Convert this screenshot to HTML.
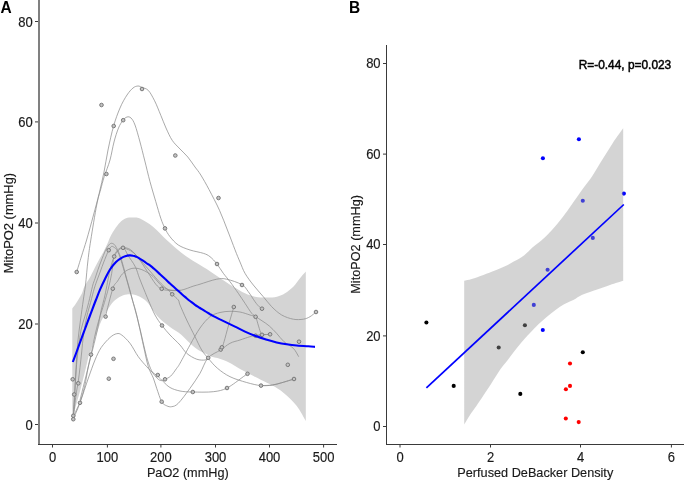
<!DOCTYPE html>
<html><head><meta charset="utf-8"><title>MitoPO2 plots</title>
<style>
html,body{margin:0;padding:0;background:#fff;}
body{width:685px;height:481px;overflow:hidden;}
svg{display:block;will-change:transform;}
text{font-family:"Liberation Sans",sans-serif;}
</style></head><body>
<svg width="685" height="481" viewBox="0 0 685 481">
<rect width="685" height="481" fill="#fff"/>

<g id="panelA">
<path d="M72.3 308.6C72.8 307.9 74.2 306.2 75.3 304.6C76.3 303.1 77.5 301.2 78.6 299.3C79.7 297.4 81.1 295.3 82.0 293.3C82.9 291.3 83.2 289.2 84.0 287.5C84.8 285.8 85.4 284.9 86.5 283.0C87.6 281.1 89.1 279.0 90.6 276.2C92.1 273.4 94.1 269.0 95.7 266.0C97.3 263.0 98.7 260.4 100.0 258.0C101.3 255.6 102.5 253.9 103.7 251.5C105.0 249.1 106.2 246.2 107.5 243.5C108.8 240.8 109.5 238.0 111.2 235.0C112.9 232.0 115.5 227.9 117.4 225.5C119.3 223.1 120.7 221.6 122.4 220.3C124.1 219.0 125.5 218.3 127.4 217.8C129.3 217.3 131.5 217.4 133.6 217.5C135.7 217.6 136.7 217.0 140.0 218.6C143.3 220.2 148.9 223.4 153.3 227.0C157.8 230.6 162.0 235.7 166.7 240.0C171.4 244.3 177.0 249.3 181.7 253.0C186.4 256.7 190.8 259.3 195.0 262.0C199.2 264.7 202.5 266.3 206.7 269.0C210.9 271.7 215.6 275.1 220.0 278.0C224.4 280.9 229.1 284.1 233.3 286.7C237.5 289.2 241.4 291.6 245.0 293.3C248.6 295.0 251.4 296.0 255.0 296.7C258.6 297.4 263.0 297.5 266.7 297.5C270.4 297.5 273.9 297.4 277.0 296.7C280.1 296.0 282.3 295.0 285.0 293.3C287.7 291.6 290.8 289.2 293.3 286.7C295.8 284.2 297.9 280.8 300.0 278.3C302.1 275.8 304.8 272.6 305.8 271.5L305.8 421.0C304.3 418.5 300.5 410.7 296.8 406.0C293.1 401.3 287.8 396.4 283.7 393.0C279.6 389.6 276.2 387.8 272.5 385.6C268.8 383.4 264.9 381.9 261.2 380.0C257.4 378.1 253.8 376.3 250.0 374.3C246.2 372.3 241.6 369.9 238.3 368.0C235.0 366.1 232.5 364.3 230.0 363.0C227.5 361.7 225.4 360.8 223.3 360.0C221.2 359.2 219.4 358.6 217.5 358.0C215.6 357.4 213.5 357.3 211.7 356.7C209.9 356.1 208.9 355.3 206.7 354.2C204.5 353.1 201.1 351.8 198.3 350.0C195.5 348.2 192.9 345.9 190.0 343.3C187.1 340.7 184.3 337.2 181.0 334.5C177.7 331.8 173.7 329.8 170.0 327.0C166.3 324.2 161.9 320.7 159.1 318.0C156.3 315.3 155.2 313.4 153.3 310.8C151.4 308.2 149.4 304.7 147.5 302.5C145.6 300.3 143.8 299.0 141.6 297.7C139.4 296.4 136.9 295.3 134.4 294.8C131.9 294.3 129.1 294.2 126.7 294.5C124.3 294.8 122.2 295.5 120.0 296.7C117.8 297.9 115.4 299.5 113.3 301.7C111.2 303.9 109.5 306.7 107.5 310.0C105.5 313.3 102.9 317.7 101.2 321.2C99.6 324.8 98.8 327.9 97.5 331.2C96.2 334.6 94.8 338.1 93.8 341.2C92.7 344.4 91.9 347.4 91.0 350.0C90.1 352.6 89.4 353.6 88.4 357.0C87.5 360.4 86.6 365.0 85.3 370.3C84.0 375.6 82.0 383.6 80.6 389.0C79.2 394.4 77.9 398.7 76.7 403.0C75.5 407.3 74.3 412.6 73.6 414.7C72.9 416.8 72.5 415.4 72.3 415.5Z" fill="#d4d4d4"/>
<g fill="none" stroke="#8e8e8e" stroke-width="0.75">
<path d="M76.7 272.0C77.5 269.3 79.9 261.3 81.6 256.0C83.2 250.7 84.6 246.8 86.6 240.0C88.6 233.2 91.4 222.8 93.5 215.0C95.6 207.2 97.5 200.5 99.2 193.3C101.0 186.1 102.5 179.2 104.0 172.0C105.5 164.8 106.4 157.7 108.0 150.0C109.6 142.3 111.6 133.0 113.6 126.0C115.6 119.0 117.8 113.2 120.0 108.0C122.2 102.8 124.8 98.3 127.0 95.0C129.2 91.7 131.2 89.5 133.0 88.0C134.8 86.5 136.5 86.1 138.0 86.0C139.5 85.9 140.3 86.8 142.0 87.5C143.7 88.2 146.2 88.2 148.3 90.4C150.4 92.6 152.5 96.7 154.6 100.8C156.7 104.9 158.9 110.8 160.8 115.3C162.7 119.8 164.1 123.8 166.0 128.0C167.9 132.2 169.9 136.8 172.2 140.3C174.5 143.8 177.4 146.2 180.0 149.0C182.6 151.8 185.3 154.0 187.8 157.0C190.3 160.0 192.8 164.0 195.0 167.0C197.2 170.0 198.5 171.2 200.8 175.0C203.1 178.8 205.9 183.6 209.0 189.5C212.1 195.4 216.4 203.4 219.5 210.3C222.6 217.2 225.2 224.4 227.8 231.0C230.4 237.6 233.0 244.6 235.0 249.8C237.0 255.0 238.3 258.1 240.0 262.0C241.7 265.9 242.8 269.5 245.0 273.3C247.2 277.1 250.2 281.1 253.3 285.0C256.4 288.9 260.2 293.1 263.3 296.7C266.4 300.3 268.6 303.6 271.7 306.7C274.8 309.8 278.1 312.9 281.7 315.0C285.3 317.1 289.7 318.5 293.3 319.2C296.9 319.9 300.5 319.6 303.3 319.2C306.1 318.8 307.9 317.9 310.0 316.7C312.1 315.5 315.0 312.8 316.0 312.0"/>
<path d="M73.3 416.0C73.5 413.3 74.1 406.0 74.5 400.0C74.9 394.0 75.2 386.7 75.5 380.0C75.8 373.3 76.1 366.7 76.5 360.0C76.9 353.3 77.3 346.7 78.0 340.0C78.7 333.3 79.6 326.7 80.5 320.0C81.4 313.3 82.5 305.8 83.3 300.0C84.1 294.2 84.7 291.7 85.5 285.0C86.3 278.3 87.1 267.5 88.0 260.0C88.9 252.5 89.3 249.2 90.8 240.0C92.2 230.8 95.1 213.3 96.7 205.0C98.3 196.7 99.2 194.7 100.5 190.0C101.8 185.3 102.6 181.7 104.2 176.7C105.8 171.7 108.4 165.8 110.0 160.0C111.6 154.2 112.6 147.3 114.0 142.0C115.4 136.7 117.0 131.6 118.5 128.0C120.0 124.4 121.6 122.0 123.0 120.2C124.4 118.4 125.7 117.4 127.0 117.0C128.3 116.6 129.7 116.7 131.0 118.0C132.3 119.3 133.5 121.0 135.0 125.0C136.5 129.0 138.4 136.2 140.0 142.0C141.6 147.8 142.9 153.4 144.6 160.0C146.3 166.6 148.1 174.8 150.0 181.7C151.9 188.6 154.0 195.6 155.8 201.7C157.6 207.8 159.3 213.9 160.8 218.3C162.3 222.8 163.5 225.3 165.0 228.4C166.5 231.5 167.8 233.9 170.0 236.7C172.2 239.5 175.0 242.8 178.3 245.0C181.6 247.2 185.8 248.6 190.0 250.0C194.2 251.4 200.0 252.2 203.3 253.3C206.6 254.4 207.7 254.9 210.0 256.7C212.3 258.5 214.8 261.2 217.0 264.0C219.2 266.8 221.1 270.4 223.3 273.3C225.5 276.2 227.5 278.4 230.0 281.7C232.5 285.0 235.8 289.7 238.3 293.3C240.8 296.9 242.8 300.0 245.0 303.3C247.2 306.6 249.9 311.1 251.7 313.3C253.5 315.6 254.6 315.0 255.6 316.8C256.6 318.6 257.1 321.3 257.9 323.9C258.7 326.5 259.8 330.4 260.5 332.2C261.2 334.0 261.8 334.4 262.0 334.8"/>
<path d="M73.3 416.0C73.5 413.3 73.8 406.0 74.2 400.0C74.6 394.0 74.9 386.7 75.4 380.0C75.9 373.3 76.4 365.8 77.0 360.0C77.6 354.2 78.1 350.0 78.8 345.0C79.5 340.0 80.0 334.8 81.0 330.0C82.0 325.2 83.7 320.6 85.0 316.0C86.3 311.4 87.5 307.4 88.7 302.4C90.0 297.4 91.5 290.1 92.5 286.2C93.5 282.2 94.1 281.5 95.0 278.7C95.9 275.9 97.1 272.2 98.1 269.3C99.1 266.4 100.0 264.1 101.2 261.0C102.4 257.9 104.2 253.2 105.4 250.6C106.6 248.0 107.5 246.6 108.5 245.4C109.5 244.2 110.1 243.5 111.1 243.3C112.0 243.1 113.3 243.7 114.2 244.4C115.1 245.1 115.5 246.2 116.3 247.5C117.1 248.8 117.8 250.2 118.8 252.5C119.7 254.8 120.9 257.9 121.9 261.2C122.9 264.6 123.9 268.3 125.0 272.5C126.1 276.7 127.5 281.7 128.8 286.2C130.0 290.8 131.2 295.2 132.5 300.0C133.8 304.8 134.9 307.5 136.7 315.0C138.5 322.5 141.4 336.4 143.3 345.0C145.2 353.6 146.6 361.2 148.3 366.7C150.0 372.2 151.9 374.4 153.3 378.0C154.7 381.6 155.3 384.4 156.7 388.3C158.1 392.2 160.0 398.8 161.7 401.7C163.4 404.6 165.0 405.0 166.7 405.8C168.4 406.6 169.8 407.1 171.7 406.7C173.6 406.3 175.2 406.4 178.3 403.3C181.4 400.2 186.4 393.3 190.0 388.3C193.6 383.3 197.0 378.4 200.0 373.3C203.0 368.2 204.6 361.9 208.0 358.0C211.4 354.1 216.8 352.4 220.5 350.0C224.2 347.6 226.8 345.0 230.0 343.3C233.2 341.6 236.7 341.1 240.0 340.0C243.3 338.9 247.4 337.4 250.0 336.7C252.6 336.0 253.6 336.0 255.6 335.7C257.6 335.4 259.6 335.0 262.0 334.8C264.4 334.6 268.8 334.4 270.1 334.3"/>
<path d="M73.5 416.0C74.6 413.7 78.1 407.0 80.0 402.0C81.9 397.0 83.4 391.9 84.7 386.2C86.0 380.5 87.0 373.3 88.0 368.0C89.0 362.7 90.0 359.1 91.0 354.6C92.0 350.1 92.7 345.9 93.8 341.0C94.8 336.1 96.2 329.8 97.5 325.0C98.8 320.2 100.1 316.2 101.2 312.5C102.4 308.8 103.2 306.6 104.4 302.5C105.6 298.4 107.3 292.9 108.5 288.0C109.7 283.1 110.8 278.6 111.7 273.3C112.6 268.0 112.9 260.3 114.1 256.2C115.3 252.2 117.3 250.4 118.8 249.0C120.2 247.6 121.8 247.5 122.9 247.8C124.0 248.0 124.7 249.2 125.5 250.5C126.3 251.8 127.0 253.8 128.0 255.5C129.0 257.1 130.1 258.4 131.4 260.4C132.7 262.4 134.5 264.8 135.8 267.7C137.1 270.6 138.0 274.3 139.4 278.0C140.8 281.7 142.7 286.3 144.2 290.0C145.7 293.7 146.5 295.8 148.3 300.0C150.1 304.2 152.7 310.8 155.0 315.0C157.3 319.2 159.5 322.2 162.0 325.5C164.5 328.8 167.0 331.8 170.0 335.0C173.0 338.2 177.2 341.9 180.0 345.0C182.8 348.1 183.9 350.9 186.7 353.3C189.5 355.7 193.6 358.1 196.7 359.2C199.8 360.3 203.1 360.2 205.0 360.0C206.9 359.8 207.5 358.3 208.0 358.0"/>
<path d="M80.0 400.0C81.7 393.3 87.1 371.7 90.0 360.0C92.9 348.3 95.6 338.1 97.4 329.9C99.2 321.7 99.7 316.8 101.0 311.0C102.3 305.2 103.5 301.8 105.0 295.0C106.5 288.2 108.5 276.3 110.0 270.0C111.5 263.7 112.6 260.2 114.0 257.0C115.4 253.8 116.7 252.4 118.2 250.8C119.7 249.2 120.9 247.9 123.0 247.7C125.1 247.5 128.0 247.9 130.7 249.8C133.4 251.7 136.2 255.5 139.0 259.1C141.8 262.7 144.6 267.4 147.4 271.6C150.2 275.8 153.3 281.2 155.7 284.1C158.0 287.0 159.4 287.9 161.5 288.9C163.6 289.9 165.0 290.1 168.2 290.3C171.4 290.5 176.5 291.0 180.7 290.3C184.8 289.6 189.9 287.2 193.1 286.2C196.3 285.2 196.1 285.4 200.0 284.2C203.9 283.0 212.2 280.0 216.7 279.2C221.1 278.4 222.5 278.3 226.7 279.2C230.9 280.1 238.4 282.6 242.0 284.7C245.6 286.8 246.1 288.9 248.3 291.7C250.5 294.5 253.2 299.2 255.0 301.7C256.8 304.2 258.0 305.5 259.2 306.7C260.4 307.9 261.5 308.4 262.0 308.7"/>
<path d="M123.0 247.7C124.3 248.2 128.4 249.4 130.7 250.8C133.0 252.2 134.9 253.9 137.0 256.0C139.1 258.1 141.2 261.0 143.2 263.3C145.2 265.6 146.9 267.6 149.0 270.0C151.1 272.4 153.4 275.2 155.7 277.8C158.0 280.4 160.9 283.5 163.0 285.5C165.1 287.5 166.8 288.5 168.3 290.0C169.8 291.5 170.5 292.6 172.2 294.3C173.9 296.0 177.0 298.2 178.3 300.0C179.6 301.8 178.6 301.7 180.0 305.0C181.4 308.3 184.2 314.7 186.7 320.0C189.2 325.3 192.5 331.7 195.0 336.7C197.5 341.7 199.5 346.4 201.7 350.0C203.9 353.6 205.4 354.9 208.0 358.0C210.6 361.1 213.8 365.2 217.5 368.3C221.2 371.4 225.1 374.3 230.0 376.7C234.9 379.1 241.5 381.0 246.7 382.5C251.9 384.0 256.7 385.2 261.0 385.6C265.3 386.0 269.0 385.5 272.5 385.0C276.0 384.5 278.2 383.7 281.8 382.7C285.4 381.7 292.0 379.6 294.0 379.0"/>
<path d="M105.4 316.7C106.6 312.0 110.8 294.6 112.8 288.7C114.8 282.8 115.9 283.7 117.5 281.2C119.1 278.8 120.6 275.7 122.5 273.8C124.4 271.8 126.7 270.3 128.8 269.4C130.8 268.5 132.9 268.1 135.0 268.1C137.1 268.1 139.2 268.7 141.2 269.4C143.3 270.1 145.5 271.3 147.5 272.5C149.5 273.7 151.2 274.9 153.0 276.5C154.8 278.1 156.3 280.2 158.0 282.0C159.7 283.8 161.0 285.7 163.0 287.0C165.0 288.3 167.1 289.4 170.0 290.0C172.9 290.6 178.9 290.2 180.7 290.3"/>
<path d="M73.3 419.0C74.4 416.3 77.5 409.6 80.0 402.8C82.5 396.0 85.9 385.1 88.4 378.0C90.9 370.9 92.9 365.1 95.0 360.0C97.1 354.9 98.8 351.2 101.2 347.5C103.8 343.8 107.4 339.8 110.0 337.5C112.6 335.2 114.8 334.1 116.7 333.7C118.7 333.3 119.5 333.4 121.7 335.0C123.9 336.6 127.2 339.7 130.0 343.3C132.8 346.9 135.5 352.8 138.3 356.7C141.1 360.6 144.4 364.1 146.7 366.7C149.0 369.2 150.2 370.4 152.0 372.0C153.8 373.6 155.7 374.4 157.6 376.0C159.5 377.6 161.2 379.8 163.3 381.7C165.4 383.6 167.2 385.9 170.0 387.5C172.8 389.1 176.2 390.2 180.0 391.0C183.8 391.8 187.2 391.9 192.8 392.0C198.4 392.1 207.6 392.4 213.3 391.7C219.0 391.0 222.0 390.5 227.0 388.0C232.0 385.5 239.9 379.1 243.3 376.7C246.7 374.3 246.8 374.2 247.5 373.7"/>
<path d="M73.5 416.0C73.9 412.5 75.2 400.7 76.0 395.0C76.8 389.3 77.5 386.6 78.2 382.0C78.9 377.4 79.4 372.5 80.0 367.5C80.6 362.5 81.1 357.4 81.7 352.0C82.3 346.6 82.6 341.0 83.5 335.0C84.4 329.0 85.7 321.5 86.9 316.1C88.1 310.7 89.3 307.1 90.6 302.4C91.8 297.7 93.2 291.9 94.4 288.0C95.6 284.1 96.5 281.8 97.5 279.0C98.5 276.2 99.5 273.8 100.5 271.0C101.5 268.2 102.6 265.1 103.8 262.0C105.0 258.9 106.7 254.7 107.5 252.7C108.3 250.7 108.1 250.9 108.8 249.9C109.5 248.9 110.6 246.8 111.6 246.4C112.5 246.0 113.7 247.1 114.5 247.6C115.3 248.1 115.8 248.3 116.5 249.5C117.2 250.7 118.1 252.2 119.0 254.5C119.9 256.8 121.0 260.2 122.0 263.5C123.0 266.8 124.0 270.4 125.2 274.5C126.4 278.6 127.7 283.5 129.0 288.0C130.3 292.5 131.5 296.8 132.8 301.5C134.1 306.2 135.6 311.6 136.9 316.5C138.2 321.4 139.3 326.2 140.5 331.0C141.7 335.8 142.6 340.7 143.8 345.5C145.0 350.3 146.2 355.8 147.5 360.0C148.8 364.2 150.1 367.7 151.5 370.5C152.9 373.3 154.5 375.3 156.0 377.0C157.5 378.7 159.0 380.1 160.5 380.5C162.0 380.9 163.2 380.0 164.9 379.3C166.6 378.6 168.7 377.9 170.7 376.1C172.7 374.3 175.1 370.4 176.7 368.3C178.2 366.2 177.8 367.2 180.0 363.3C182.2 359.4 186.7 350.9 190.0 345.0C193.3 339.1 196.7 332.7 200.0 328.0C203.3 323.3 206.7 319.3 210.0 316.7C213.3 314.1 216.7 313.4 220.0 312.5C223.3 311.6 226.7 311.4 230.0 311.3C233.3 311.2 236.7 311.4 240.0 312.0C243.3 312.6 247.4 314.2 250.0 315.0C252.6 315.8 253.6 315.8 255.6 316.8C257.6 317.8 259.7 319.3 262.0 320.8C264.3 322.3 266.9 323.9 269.3 326.0C271.7 328.1 274.2 330.7 276.6 333.3C279.0 335.9 281.1 339.1 283.9 341.6C286.7 344.1 290.8 345.8 293.3 348.3C295.8 350.8 297.8 355.3 298.7 356.7"/>
<path d="M233.8 307.0C233.2 309.2 231.5 314.8 230.0 320.0C228.5 325.2 226.2 333.9 225.0 338.3C223.8 342.8 222.9 345.3 222.5 346.7"/>
<path d="M256.0 335.5C257.0 335.4 259.6 335.0 262.0 334.8C264.4 334.6 268.8 334.4 270.1 334.3"/>
<path d="M261.0 385.6C262.9 385.5 269.0 385.5 272.5 385.0C276.0 384.5 278.2 383.7 281.8 382.7C285.4 381.7 292.0 379.6 294.0 379.0"/>
</g>
<g fill="#c2c2c2" stroke="#747474" stroke-width="0.95">
<circle cx="101.5" cy="105.0" r="1.8"/>
<circle cx="113.7" cy="126.0" r="1.8"/>
<circle cx="123.2" cy="120.2" r="1.8"/>
<circle cx="142.0" cy="89.0" r="1.8"/>
<circle cx="106.4" cy="174.0" r="1.8"/>
<circle cx="175.3" cy="155.5" r="1.8"/>
<circle cx="218.5" cy="198.0" r="1.8"/>
<circle cx="165.0" cy="228.4" r="1.8"/>
<circle cx="217.0" cy="264.0" r="1.8"/>
<circle cx="76.7" cy="272.0" r="1.8"/>
<circle cx="108.7" cy="250.2" r="1.8"/>
<circle cx="114.2" cy="256.5" r="1.8"/>
<circle cx="123.0" cy="247.8" r="1.8"/>
<circle cx="112.8" cy="288.7" r="1.8"/>
<circle cx="161.7" cy="288.8" r="1.8"/>
<circle cx="172.2" cy="294.3" r="1.8"/>
<circle cx="242.0" cy="285.0" r="1.8"/>
<circle cx="233.8" cy="307.0" r="1.8"/>
<circle cx="262.0" cy="308.7" r="1.8"/>
<circle cx="255.6" cy="316.8" r="1.8"/>
<circle cx="316.0" cy="312.0" r="1.8"/>
<circle cx="255.6" cy="335.7" r="1.8"/>
<circle cx="262.0" cy="334.8" r="1.8"/>
<circle cx="270.1" cy="334.3" r="1.8"/>
<circle cx="299.0" cy="341.7" r="1.8"/>
<circle cx="287.8" cy="364.8" r="1.8"/>
<circle cx="294.0" cy="379.0" r="1.8"/>
<circle cx="261.0" cy="385.6" r="1.8"/>
<circle cx="247.5" cy="373.8" r="1.8"/>
<circle cx="227.0" cy="388.0" r="1.8"/>
<circle cx="192.8" cy="392.0" r="1.8"/>
<circle cx="208.2" cy="357.8" r="1.8"/>
<circle cx="220.7" cy="349.6" r="1.8"/>
<circle cx="221.9" cy="347.3" r="1.8"/>
<circle cx="105.6" cy="316.6" r="1.8"/>
<circle cx="162.0" cy="325.5" r="1.8"/>
<circle cx="91.0" cy="354.6" r="1.8"/>
<circle cx="113.5" cy="358.8" r="1.8"/>
<circle cx="108.8" cy="378.7" r="1.8"/>
<circle cx="157.8" cy="375.0" r="1.8"/>
<circle cx="165.0" cy="379.3" r="1.8"/>
<circle cx="161.7" cy="401.7" r="1.8"/>
<circle cx="72.7" cy="379.3" r="1.8"/>
<circle cx="78.3" cy="383.3" r="1.8"/>
<circle cx="74.2" cy="394.5" r="1.8"/>
<circle cx="80.0" cy="402.8" r="1.8"/>
<circle cx="73.3" cy="415.8" r="1.8"/>
<circle cx="73.3" cy="419.2" r="1.8"/>
</g>
<path d="M72.8 362.0C73.3 360.6 74.8 356.8 76.0 353.5C77.2 350.2 78.5 346.6 80.0 342.5C81.5 338.4 83.3 333.5 85.0 329.0C86.7 324.5 88.2 320.2 90.0 315.5C91.8 310.8 94.0 304.8 95.7 300.5C97.4 296.2 98.5 293.3 100.0 289.7C101.5 286.1 103.3 282.4 105.0 279.0C106.7 275.6 108.2 272.3 110.0 269.5C111.8 266.7 114.0 264.0 116.0 262.0C118.0 260.0 120.3 258.6 122.0 257.6C123.7 256.6 124.8 256.4 126.0 256.0C127.2 255.6 128.0 255.5 129.2 255.4C130.4 255.3 131.8 255.4 133.0 255.7C134.2 255.9 135.3 256.4 136.5 256.9C137.7 257.4 138.8 258.1 140.0 258.8C141.2 259.5 142.6 260.4 143.8 261.2C145.1 262.0 146.5 263.2 147.5 263.9C148.5 264.6 149.0 264.6 150.0 265.4C151.0 266.2 152.1 267.1 153.8 268.6C155.4 270.1 158.1 272.5 160.0 274.2C161.9 275.9 163.3 277.2 165.0 278.8C166.7 280.3 168.3 282.0 170.0 283.5C171.7 285.0 173.3 286.5 175.0 288.0C176.7 289.5 178.3 291.0 180.0 292.5C181.7 294.0 183.3 295.5 185.0 296.9C186.7 298.3 188.3 299.7 190.0 301.0C191.7 302.3 193.3 303.6 195.0 304.8C196.7 306.0 198.3 306.9 200.0 308.0C201.7 309.1 203.3 310.2 205.0 311.2C206.7 312.2 208.3 313.2 210.0 314.2C211.7 315.1 213.3 316.0 215.0 316.9C216.7 317.8 218.1 318.4 220.0 319.4C221.9 320.3 224.2 321.4 226.7 322.6C229.2 323.8 231.9 325.1 235.0 326.6C238.1 328.1 241.7 330.1 245.0 331.6C248.3 333.1 251.5 334.5 255.0 335.8C258.5 337.1 262.4 338.4 266.0 339.5C269.6 340.6 273.2 341.6 276.6 342.4C280.1 343.2 283.4 343.8 286.7 344.3C290.0 344.8 293.1 345.2 296.7 345.5C300.3 345.8 305.2 346.1 308.3 346.3C311.4 346.5 313.9 346.8 315.0 346.9" fill="none" stroke="#0000ff" stroke-width="2.1" stroke-linejoin="round"/>
<rect x="38" y="0" width="2" height="445" fill="#808080"/>
<rect x="38" y="444" width="299" height="1" fill="#3a3a3a"/>
<rect x="35" y="21.00" width="3" height="1" fill="#3a3a3a"/>
<text transform="translate(32.80,26.70) scale(1,1.060)" font-size="13" text-anchor="end" fill="#1a1a1a" stroke="#1a1a1a" stroke-width="0.15">80</text>
<rect x="35" y="121.40" width="3" height="1" fill="#3a3a3a"/>
<text transform="translate(32.80,127.10) scale(1,1.060)" font-size="13" text-anchor="end" fill="#1a1a1a" stroke="#1a1a1a" stroke-width="0.15">60</text>
<rect x="35" y="222.50" width="3" height="1" fill="#3a3a3a"/>
<text transform="translate(32.80,228.20) scale(1,1.060)" font-size="13" text-anchor="end" fill="#1a1a1a" stroke="#1a1a1a" stroke-width="0.15">40</text>
<rect x="35" y="323.50" width="3" height="1" fill="#3a3a3a"/>
<text transform="translate(32.80,329.20) scale(1,1.060)" font-size="13" text-anchor="end" fill="#1a1a1a" stroke="#1a1a1a" stroke-width="0.15">20</text>
<rect x="35" y="424.00" width="3" height="1" fill="#3a3a3a"/>
<text transform="translate(32.80,429.70) scale(1,1.060)" font-size="13" text-anchor="end" fill="#1a1a1a" stroke="#1a1a1a" stroke-width="0.15">0</text>
<rect x="52.0" y="445" width="1" height="2.5" fill="#3a3a3a"/>
<text transform="translate(52.50,461.50) scale(1,1.060)" font-size="13" text-anchor="middle" fill="#1a1a1a" stroke="#1a1a1a" stroke-width="0.15">0</text>
<rect x="106.9" y="445" width="1" height="2.5" fill="#3a3a3a"/>
<text transform="translate(107.40,461.50) scale(1,1.060)" font-size="13" text-anchor="middle" fill="#1a1a1a" stroke="#1a1a1a" stroke-width="0.15">100</text>
<rect x="160.4" y="445" width="1" height="2.5" fill="#3a3a3a"/>
<text transform="translate(160.90,461.50) scale(1,1.060)" font-size="13" text-anchor="middle" fill="#1a1a1a" stroke="#1a1a1a" stroke-width="0.15">200</text>
<rect x="215.0" y="445" width="1" height="2.5" fill="#3a3a3a"/>
<text transform="translate(215.50,461.50) scale(1,1.060)" font-size="13" text-anchor="middle" fill="#1a1a1a" stroke="#1a1a1a" stroke-width="0.15">300</text>
<rect x="269.0" y="445" width="1" height="2.5" fill="#3a3a3a"/>
<text transform="translate(269.50,461.50) scale(1,1.060)" font-size="13" text-anchor="middle" fill="#1a1a1a" stroke="#1a1a1a" stroke-width="0.15">400</text>
<rect x="323.1" y="445" width="1" height="2.5" fill="#3a3a3a"/>
<text transform="translate(323.60,461.50) scale(1,1.060)" font-size="13" text-anchor="middle" fill="#1a1a1a" stroke="#1a1a1a" stroke-width="0.15">500</text>
<text transform="translate(187.80,477.40) scale(1,1.060)" font-size="12.7" text-anchor="middle" fill="#1a1a1a" stroke="#1a1a1a" stroke-width="0.15">PaO2 (mmHg)</text>
<text transform="translate(13.00,223.00) rotate(-90) scale(1,1.060)" font-size="12.9" text-anchor="middle" fill="#1a1a1a" stroke="#1a1a1a" stroke-width="0.15">MitoPO2 (mmHg)</text>
<text transform="translate(0.50,13.10) scale(1,1.080)" font-size="15.5" font-weight="bold" fill="#000" stroke="#000" stroke-width="0">A</text>
</g>
<g id="panelB">
<circle cx="578.9" cy="139.2" r="2.05" fill="#0000ff"/>
<circle cx="542.9" cy="158.3" r="2.05" fill="#0000ff"/>
<circle cx="582.8" cy="200.7" r="2.05" fill="#0000ff"/>
<circle cx="623.9" cy="193.6" r="2.05" fill="#0000ff"/>
<circle cx="592.8" cy="237.9" r="2.05" fill="#0000ff"/>
<circle cx="547.6" cy="269.8" r="2.05" fill="#0000ff"/>
<circle cx="533.8" cy="304.9" r="2.05" fill="#0000ff"/>
<circle cx="542.8" cy="330.0" r="2.05" fill="#0000ff"/>
<circle cx="524.9" cy="325.3" r="2.05" fill="#000"/>
<circle cx="498.7" cy="347.5" r="2.05" fill="#000"/>
<circle cx="426.4" cy="322.5" r="2.05" fill="#000"/>
<circle cx="453.7" cy="385.9" r="2.05" fill="#000"/>
<circle cx="520.3" cy="393.9" r="2.05" fill="#000"/>
<circle cx="582.8" cy="352.3" r="2.05" fill="#000"/>
<circle cx="570.0" cy="363.5" r="2.05" fill="#ff0000"/>
<circle cx="570.0" cy="385.9" r="2.05" fill="#ff0000"/>
<circle cx="565.9" cy="389.2" r="2.05" fill="#ff0000"/>
<circle cx="565.8" cy="418.5" r="2.05" fill="#ff0000"/>
<circle cx="578.7" cy="422.1" r="2.05" fill="#ff0000"/>
<path d="M464.2 280.8C465.4 280.5 468.5 280.1 471.7 279.1C474.9 278.1 479.5 276.4 483.4 275.0C487.3 273.6 491.5 272.0 495.0 270.6C498.5 269.2 501.3 268.1 504.4 266.6C507.5 265.1 510.4 263.5 513.7 261.6C517.0 259.7 521.2 257.6 524.3 255.2C527.4 252.8 529.5 250.0 532.4 247.5C535.3 245.0 538.3 243.2 541.6 240.3C544.9 237.4 548.5 233.7 552.0 229.9C555.5 226.1 558.9 221.9 562.4 217.4C565.9 212.9 569.3 207.8 572.8 202.9C576.3 198.1 580.0 192.7 583.2 188.3C586.4 183.9 588.8 181.3 592.0 176.5C595.2 171.7 598.9 165.1 602.4 159.5C605.9 153.9 609.3 148.1 612.8 142.9C616.3 137.7 621.5 130.7 623.2 128.3L623.2 280.8C621.0 281.5 615.0 283.3 610.0 285.0C605.0 286.7 598.0 289.1 593.3 290.8C588.6 292.5 585.0 293.5 581.7 295.0C578.4 296.5 576.9 298.1 573.3 300.0C569.7 301.9 565.1 303.2 560.0 306.7C554.9 310.2 547.8 316.0 542.4 320.8C537.0 325.6 532.3 330.5 527.8 335.3C523.3 340.1 518.8 345.6 515.3 349.9C511.8 354.2 509.6 357.6 507.0 361.0C504.4 364.4 502.5 366.2 499.9 370.0C497.3 373.8 493.9 379.5 491.2 383.7C488.5 387.9 486.2 391.2 483.7 395.0C481.2 398.8 478.5 402.9 476.2 406.2C473.9 409.5 472.0 411.8 470.0 414.9C468.0 417.9 465.2 422.9 464.2 424.5Z" fill="#999999" fill-opacity="0.42"/>
<line x1="426.4" y1="387.9" x2="623.8" y2="204.5" stroke="#0000ff" stroke-width="1.7"/>
<rect x="386" y="45" width="1" height="400" fill="#3a3a3a"/>
<rect x="386" y="444" width="298" height="1" fill="#3a3a3a"/>
<rect x="383" y="63.0" width="3" height="1" fill="#3a3a3a"/>
<text transform="translate(380.60,68.20) scale(1,1.060)" font-size="13" text-anchor="end" fill="#1a1a1a" stroke="#1a1a1a" stroke-width="0.15">80</text>
<rect x="383" y="153.6" width="3" height="1" fill="#3a3a3a"/>
<text transform="translate(380.60,158.80) scale(1,1.060)" font-size="13" text-anchor="end" fill="#1a1a1a" stroke="#1a1a1a" stroke-width="0.15">60</text>
<rect x="383" y="244.0" width="3" height="1" fill="#3a3a3a"/>
<text transform="translate(380.60,249.20) scale(1,1.060)" font-size="13" text-anchor="end" fill="#1a1a1a" stroke="#1a1a1a" stroke-width="0.15">40</text>
<rect x="383" y="335.4" width="3" height="1" fill="#3a3a3a"/>
<text transform="translate(380.60,340.60) scale(1,1.060)" font-size="13" text-anchor="end" fill="#1a1a1a" stroke="#1a1a1a" stroke-width="0.15">20</text>
<rect x="383" y="426.0" width="3" height="1" fill="#3a3a3a"/>
<text transform="translate(380.60,431.20) scale(1,1.060)" font-size="13" text-anchor="end" fill="#1a1a1a" stroke="#1a1a1a" stroke-width="0.15">0</text>
<rect x="399.5" y="445" width="1" height="2.5" fill="#3a3a3a"/>
<text transform="translate(400.00,461.50) scale(1,1.060)" font-size="13" text-anchor="middle" fill="#1a1a1a" stroke="#1a1a1a" stroke-width="0.15">0</text>
<rect x="490.0" y="445" width="1" height="2.5" fill="#3a3a3a"/>
<text transform="translate(490.50,461.50) scale(1,1.060)" font-size="13" text-anchor="middle" fill="#1a1a1a" stroke="#1a1a1a" stroke-width="0.15">2</text>
<rect x="580.0" y="445" width="1" height="2.5" fill="#3a3a3a"/>
<text transform="translate(580.50,461.50) scale(1,1.060)" font-size="13" text-anchor="middle" fill="#1a1a1a" stroke="#1a1a1a" stroke-width="0.15">4</text>
<rect x="670.9" y="445" width="1" height="2.5" fill="#3a3a3a"/>
<text transform="translate(671.40,461.50) scale(1,1.060)" font-size="13" text-anchor="middle" fill="#1a1a1a" stroke="#1a1a1a" stroke-width="0.15">6</text>
<text transform="translate(535.30,477.40) scale(1,1.060)" font-size="12.7" text-anchor="middle" fill="#1a1a1a" stroke="#1a1a1a" stroke-width="0.15">Perfused DeBacker Density</text>
<text transform="translate(360.40,244.40) rotate(-90) scale(1,1.060)" font-size="12.7" text-anchor="middle" fill="#1a1a1a" stroke="#1a1a1a" stroke-width="0.15">MitoPO2 (mmHg)</text>
<text transform="translate(349.00,13.10) scale(1,1.080)" font-size="15.5" font-weight="bold" fill="#000" stroke="#000" stroke-width="0">B</text>
<text transform="translate(578.70,68.90) scale(1,1.060)" font-size="11.9" fill="#000" stroke="#000" stroke-width="0.45">R=-0.44, p=0.023</text>
</g>
</svg>
</body></html>
